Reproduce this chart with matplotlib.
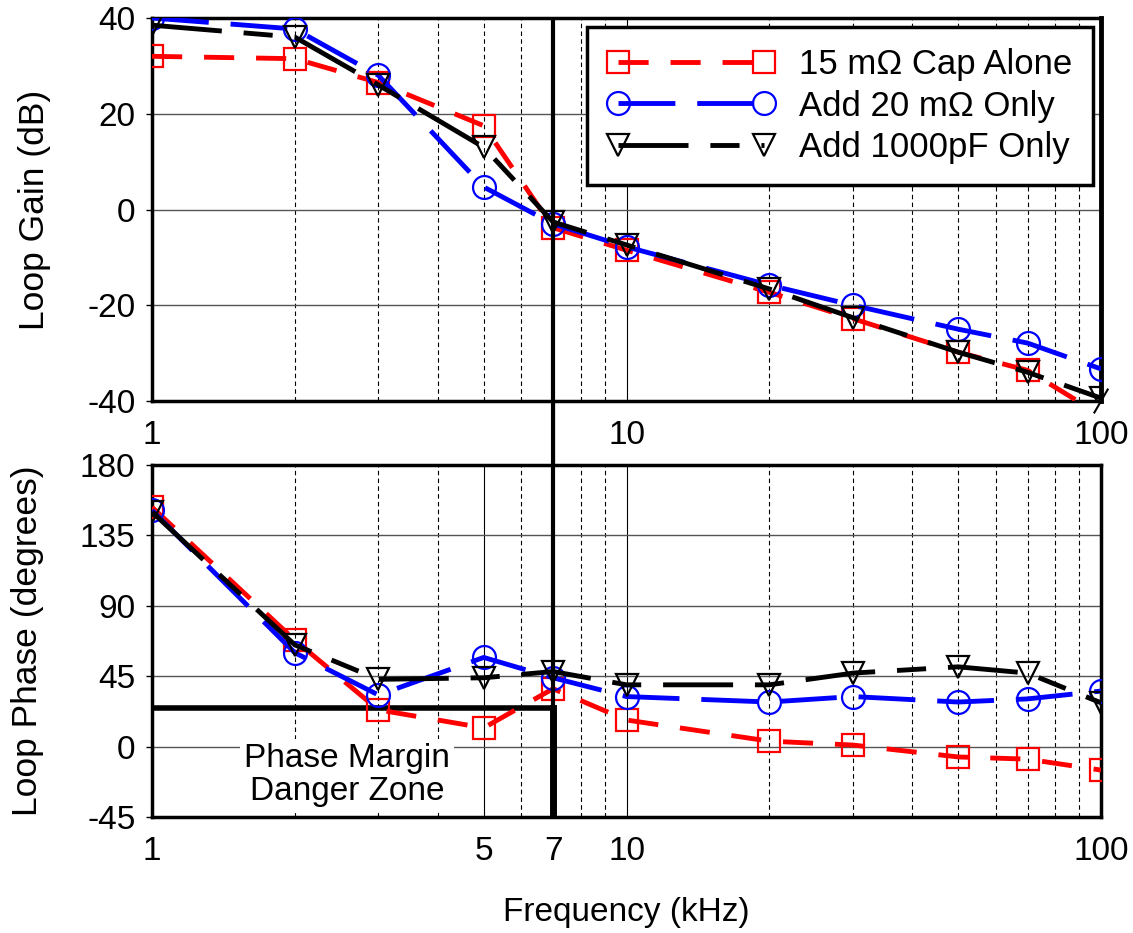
import matplotlib
matplotlib.use("Agg")
import matplotlib.pyplot as plt
from matplotlib.patches import ConnectionPatch
from matplotlib.ticker import FixedLocator, NullFormatter

plt.rcParams["font.family"] = ["Liberation Sans", "DejaVu Sans"]
plt.rcParams["axes.unicode_minus"] = False

# Frequencies (kHz)
freq = [1, 2, 3, 5, 7, 10, 20, 30, 50, 70, 100]

# Loop gain (dB)
gain_cap = [32, 31.5, 26.5, 17.5, -3.8, -8.5, -17.3, -22.8, -29.8, -33.6, -43]
gain_20m = [40, 37.7, 28, 4.7, -3, -7.8, -15.8, -20, -25, -27.9, -33.3]
gain_1000p = [38.5, 36, 26, 13, -2.6, -7.4, -16.6, -22.6, -29.8, -34, -39.4]

# Loop phase (degrees)
phase_cap = [153, 68, 23.5, 12, 37, 17, 3.5, 1, -6.6, -8, -15]
phase_20m = [151, 60, 33, 57, 44, 32, 28.5, 32, 28.5, 30.5, 35.5]
phase_1000p = [150, 65, 43, 44, 48, 39.5, 39.5, 47, 51, 47, 28]

labels = ["15 m\u03a9 Cap Alone", "Add 20 m\u03a9 Only", "Add 1000pF Only"]
crossover = 7
danger_phase = 25

styles = [
    dict(color="red", marker="s", dashes=(6.2, 4.5)),
    dict(color="blue", marker="o", dashes=(11.7, 4.5)),
    dict(color="black", marker="v", dashes=(14.4, 4.5, 6, 4.5)),
]

fig = plt.figure(figsize=(11.33, 9.33), dpi=100)
ax1 = fig.add_axes([0.1342, 0.5702, 0.8376, 0.4105])
ax2 = fig.add_axes([0.1342, 0.1243, 0.8376, 0.3773])

fs = 24

def style_axes(ax, major, ylim, yticks):
    ax.set_xscale("log")
    ax.set_xlim(1, 100)
    ax.set_ylim(*ylim)
    ax.set_yticks(yticks)
    ax.xaxis.set_major_locator(FixedLocator(major))
    ax.set_xticklabels([str(m) for m in major])
    minors = [m for m in list(range(2, 10)) + list(range(20, 100, 10)) if m not in major]
    ax.xaxis.set_minor_locator(FixedLocator(minors))
    ax.xaxis.set_minor_formatter(NullFormatter())
    ax.grid(True, which="major", axis="y", color="#555555", lw=1.0, ls="-", zorder=0)
    ax.grid(True, which="major", axis="x", color="black", lw=0.8, ls="-", zorder=0)
    ax.grid(True, which="minor", axis="x", color="black", lw=0.8, ls=(0, (4, 3)), zorder=0)
    ax.tick_params(axis="x", which="both", labelsize=fs, length=0, pad=14)
    ax.tick_params(axis="y", which="both", labelsize=fs, length=4, width=1, pad=8)
    for s in ax.spines.values():
        s.set_linewidth(2.5)
    ax.set_axisbelow(True)

style_axes(ax1, [1, 10, 100], (-40, 40), [-40, -20, 0, 20, 40])
style_axes(ax2, [1, 5, 7, 10, 100], (-45, 180), [-45, 0, 45, 90, 135, 180])
ax1.spines["right"].set_linewidth(3.5)

for g, st, lab in zip([gain_cap, gain_20m, gain_1000p], styles, labels):
    ax1.plot(freq, g, color=st["color"], marker=st["marker"], dashes=st["dashes"],
             lw=3.5, ms=16.5, mfc="none", mew=1.6, label=lab, zorder=3)

for p, st in zip([phase_cap, phase_20m, phase_1000p], styles):
    ax2.plot(freq, p, color=st["color"], marker=st["marker"], dashes=st["dashes"],
             lw=3.5, ms=16.5, mfc="none", mew=1.6, zorder=3)

ax1.set_ylabel("Loop Gain (dB)", fontsize=25.5, labelpad=26)
ax2.set_ylabel("Loop Phase (degrees)", fontsize=25.5, labelpad=26)
ax2.set_xlabel("Frequency (kHz)", fontsize=fs, labelpad=21)

leg = ax1.legend(loc="upper right", bbox_to_anchor=(0.9916, 0.9765), borderaxespad=0,
                 fontsize=25, numpoints=2, handlelength=4.8, fancybox=False,
                 framealpha=1, edgecolor="black", borderpad=0.6, labelspacing=0.25,
                 handletextpad=0.7)
leg.get_frame().set_linewidth(2.5)

# axis break mark at lower right of the gain plot
ax1.plot([0.993, 1.007], [-0.03, 0.03], transform=ax1.transAxes, color="black",
         lw=1.5, clip_on=False, zorder=5)

# crossover line through both plots
ax1.axvline(crossover, color="black", lw=3, zorder=4)
ax2.axvline(crossover, color="black", lw=3, zorder=4)
con = ConnectionPatch(xyA=(crossover, -40), coordsA=ax1.transData,
                      xyB=(crossover, 180), coordsB=ax2.transData,
                      color="black", lw=3)
fig.add_artist(con)

# danger zone
ax2.plot([1, crossover], [danger_phase, danger_phase], color="black", lw=4,
         solid_capstyle="round", zorder=2)
ax2.plot([crossover, crossover], [danger_phase, -45], color="black", lw=5, zorder=4)
ax2.text(2.58, -18, "Phase Margin\nDanger Zone", fontsize=fs, ha="center", va="center",
         linespacing=1.1, bbox=dict(facecolor="white", edgecolor="none", pad=3), zorder=2)

fig.savefig("out.png", dpi=100)
